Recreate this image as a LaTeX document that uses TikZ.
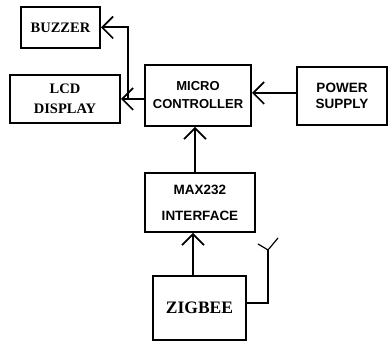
\documentclass[tikz,border=0pt]{standalone}
\usepackage{fontspec}
\setmainfont{Liberation Serif}
\setsansfont{Liberation Sans}
\usetikzlibrary{arrows.meta}
\begin{document}
\begin{tikzpicture}[x=1pt,y=-1pt,
  blk/.style={draw,line width=2pt,rectangle,inner sep=0pt,align=center},
  serifl/.style={font=\fontsize{14.5}{20}\selectfont\bfseries},
  sansl/.style={font=\sffamily\fontsize{13}{18}\selectfont\bfseries},
  arr/.style={line width=2pt,-{Straight Barb[length=11pt,width=22pt,line width=1.6pt]}},
  wire/.style={line width=2pt}]
\useasboundingbox (0,0) rectangle (392,344);
\node[blk,serifl,minimum width=79pt,minimum height=41pt] (buzzer) at (60.5,27.5) {BUZZER};
\node[blk,serifl,minimum width=110pt,minimum height=48pt] (lcd) at (65,99) {LCD\\DISPLAY};
\node[blk,sansl,minimum width=106pt,minimum height=61pt] (micro) at (198,95.5) {MICRO\\CONTROLLER};
\node[blk,sansl,font=\sffamily\fontsize{13.5}{16}\selectfont\bfseries,minimum width=90pt,minimum height=58pt] (power) at (342,96) {POWER\\SUPPLY};
\node[blk,sansl,font=\sffamily\fontsize{13.5}{26}\selectfont\bfseries,minimum width=110pt,minimum height=59pt] (max) at (200,202.5) {MAX232\\INTERFACE};
\node[blk,serifl,font=\fontsize{17.5}{20}\selectfont\bfseries,minimum width=93pt,minimum height=64pt] (zig) at (199.5,308) {ZIGBEE};
\coordinate (j) at (128,99);
\coordinate (ant) at (268,250);
\draw[arr] (lcd.east -| micro.west) -- (lcd.east);
\draw[arr] (j) |- (buzzer.east);
\draw[arr] ([yshift=3pt]power.west) -- ([yshift=3pt]power.west -| micro.east);
\draw[arr] ([xshift=-5pt]max.north) -- ([xshift=-5pt]max.north |- micro.south);
\draw[arr] ([xshift=-6.5pt]zig.north) -- ([xshift=-6.5pt]zig.north |- max.south);
\draw[wire] ([yshift=5pt]zig.east) -| (ant);
\draw[line width=1.2pt] (258,244) -- (ant) -- (278,238);
\end{tikzpicture}
\end{document}
